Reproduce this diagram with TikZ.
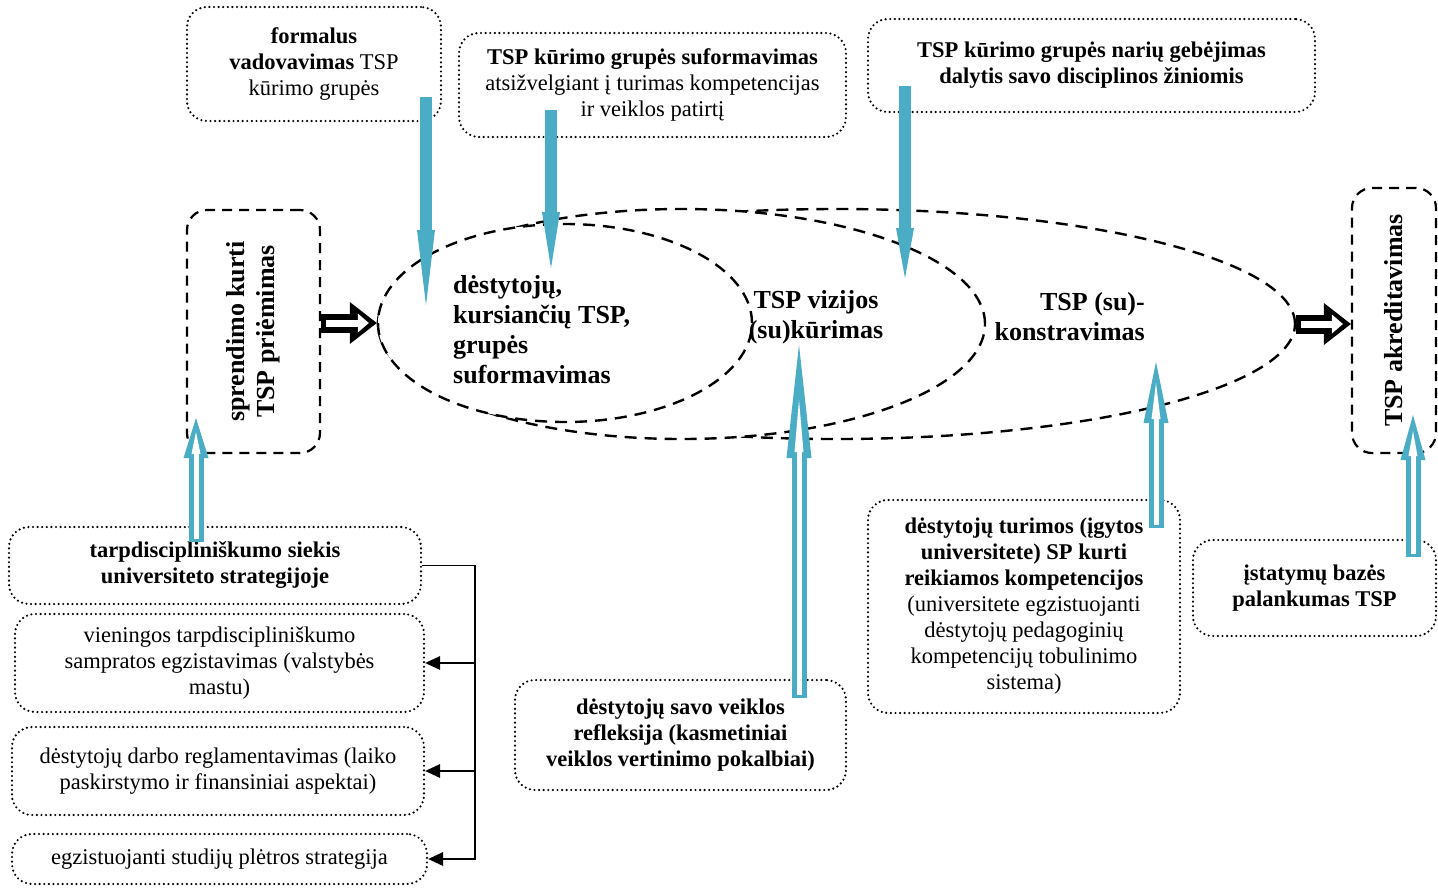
\documentclass[tikz,border=0pt]{standalone}
\usepackage{fontspec}
\setmainfont{Liberation Serif}
\usepackage{graphicx}
\usepackage{tikz}
\usetikzlibrary{shapes.geometric, arrows.meta}
\definecolor{tspblue}{HTML}{4BACC6}
\newcommand{\boxfont}{\fontsize{22.5}{26}\selectfont}
\newcommand{\stagefont}{\fontsize{26}{30}\selectfont\bfseries}

\begin{document}
\begin{tikzpicture}[x=1pt, y=-1pt,
    notebox/.style={draw, rounded corners=20pt, line width=2.4pt, line cap=round,
      dash pattern=on 0pt off 4.6pt, align=center, inner sep=0pt, font=\boxfont},
    stagebox/.style={draw, rounded corners=20pt, line width=2.2pt, dash pattern=on 10pt off 7pt, inner sep=0pt},
    phase/.style={ellipse, draw, fill=white, line width=2.4pt, dash pattern=on 12pt off 8pt, inner sep=0pt},
    phasetext/.style={font=\stagefont, inner sep=0pt},
    link/.style={line width=1.6pt},
    linkarrow/.style={link, -{Triangle[length=15pt, width=14pt, line width=0pt]}},
    pusharrow/.style={line width=12pt, draw=tspblue, -{Triangle[length=#1, width=18pt, line width=0pt]}},
    liftarrow/.style n args={3}{line width=15pt, draw=tspblue, -{Triangle[length=#1, width=25pt, line width=0pt]},
      postaction={draw=white, line width=5pt, shorten <=3pt, shorten >=#2, -{Triangle[length=#3, width=9pt, line width=0pt]}}},
    stagearrow/.style={line width=19pt, draw=black, -{Triangle[length=27pt, width=42pt, line width=0pt]},
      postaction={draw=white, line width=7pt, shorten <=5pt, shorten >=8pt, -{Triangle[length=11pt, width=19pt, line width=0pt]}}}
  ]
  \useasboundingbox (0,0) rectangle (1438,887);

  % process phases
  \node[phase, minimum width=917pt, minimum height=230pt] (konstr) at (836.5,324) {};
  \node[phase, minimum width=607pt, minimum height=230pt] (vizija) at (681.5,324) {};
  \node[phase, minimum width=374pt, minimum height=198pt] (grupe) at (565,323) {};
  \node[phasetext, anchor=west, align=left] (grupetxt) at (453,330) {dėstytojų,\\kursiančių TSP,\\grupės\\suformavimas};
  \node[phasetext, align=center] (vizijatxt) at (816,317) {TSP vizijos\\(su)kūrimas};
  \node[phasetext, anchor=east, align=right] (konstrtxt) at (1145,317) {TSP (su)-\\konstravimas};

  % start and end
  \node[stagebox, minimum width=133pt, minimum height=243pt] (sprend) at (253.5,331.5)
    {\rotatebox{90}{\stagefont\begin{tabular}{@{}c@{}}sprendimo kurti\\TSP priėmimas\end{tabular}}};
  \node[stagebox, minimum width=84pt, minimum height=265pt] (akred) at (1394,320.5)
    {\rotatebox{90}{\stagefont TSP akreditavimas}};

  % conditions above
  \node[notebox, minimum width=254pt, minimum height=114pt] (vadov) at (314,64)
    {\textbf{formalus}\\\textbf{vadovavimas} TSP\\kūrimo grupės};
  \node[notebox, minimum width=387pt, minimum height=104pt] (sudet) at (652.5,85)
    {\textbf{TSP kūrimo grupės suformavimas}\\atsižvelgiant į turimas kompetencijas\\ir veiklos patirtį};
  \node[notebox, minimum width=447pt, minimum height=93pt] (gebej) at (1091.5,65.5)
    {\textbf{TSP kūrimo grupės narių gebėjimas}\\\textbf{dalytis savo disciplinos žiniomis}};

  % conditions below
  \node[notebox, minimum width=412pt, minimum height=77pt, font=\boxfont\bfseries] (siekis) at (215,565.5)
    {tarpdiscipliniškumo siekis\\universiteto strategijoje};
  \node[notebox, minimum width=409pt, minimum height=98pt] (samp) at (219.5,663)
    {vieningos tarpdiscipliniškumo\\sampratos egzistavimas (valstybės\\mastu)};
  \node[notebox, minimum width=412pt, minimum height=88pt] (regl) at (218,771)
    {dėstytojų darbo reglamentavimas (laiko\\paskirstymo ir finansiniai aspektai)};
  \node[notebox, minimum width=415pt, minimum height=50pt] (plet) at (219.5,859)
    {egzistuojanti studijų plėtros strategija};
  \node[notebox, minimum width=331pt, minimum height=110pt, font=\boxfont\bfseries] (refl) at (680.5,735)
    {dėstytojų savo veiklos\\refleksija (kasmetiniai\\veiklos vertinimo pokalbiai)};
  \node[notebox, minimum width=312pt, minimum height=213pt] (komp) at (1024,606.5)
    {\textbf{dėstytojų turimos (įgytos}\\\textbf{universitete) SP kurti}\\\textbf{reikiamos kompetencijos}\\(universitete egzistuojanti\\dėstytojų pedagoginių\\kompetencijų tobulinimo\\sistema)};
  \node[notebox, minimum width=243pt, minimum height=96pt, font=\boxfont\bfseries] (istat) at (1314.5,588)
    {įstatymų bazės\\palankumas TSP};

  % links on the left
  \draw[linkarrow] (siekis.east) -- ++(53,0) coordinate (bus) -- (bus |- plet.east) -- (plet.east);
  \draw[linkarrow] (bus |- samp.east) -- (samp.east);
  \draw[linkarrow] (bus |- regl.east) -- (regl.east);

  % stage arrows
  \draw[stagearrow] (sprend.east |- grupe.west) -- (grupe.west);
  \draw[stagearrow] (konstr.east) -- (konstr.east -| akred.west);

  % influences from above
  \coordinate (p1a) at (426,97);   \coordinate (p1b) at (426,305);
  \coordinate (p2a) at (551,110);  \coordinate (p2b) at (551,268);
  \coordinate (p3a) at (905,86);   \coordinate (p3b) at (905,278);
  \draw[pusharrow=75pt] (p1a) -- (p1b);
  \draw[pusharrow=56pt] (p2a) -- (p2b);
  \draw[pusharrow=50pt] (p3a) -- (p3b);

  % influences from below
  \coordinate (q1a) at (196,542);  \coordinate (q1b) at (196,418);
  \coordinate (q2a) at (799,698);  \coordinate (q2b) at (799,345);
  \coordinate (q3a) at (1156,528); \coordinate (q3b) at (1156,362);
  \coordinate (q4a) at (1413,557); \coordinate (q4b) at (1413,415);
  \draw[liftarrow={40pt}{14pt}{22pt}] (q1a) -- (q1b);
  \draw[liftarrow={113pt}{55pt}{52pt}] (q2a) -- (q2b);
  \draw[liftarrow={61pt}{21pt}{36pt}] (q3a) -- (q3b);
  \draw[liftarrow={45pt}{16pt}{25pt}] (q4a) -- (q4b);
\end{tikzpicture}
\end{document}
